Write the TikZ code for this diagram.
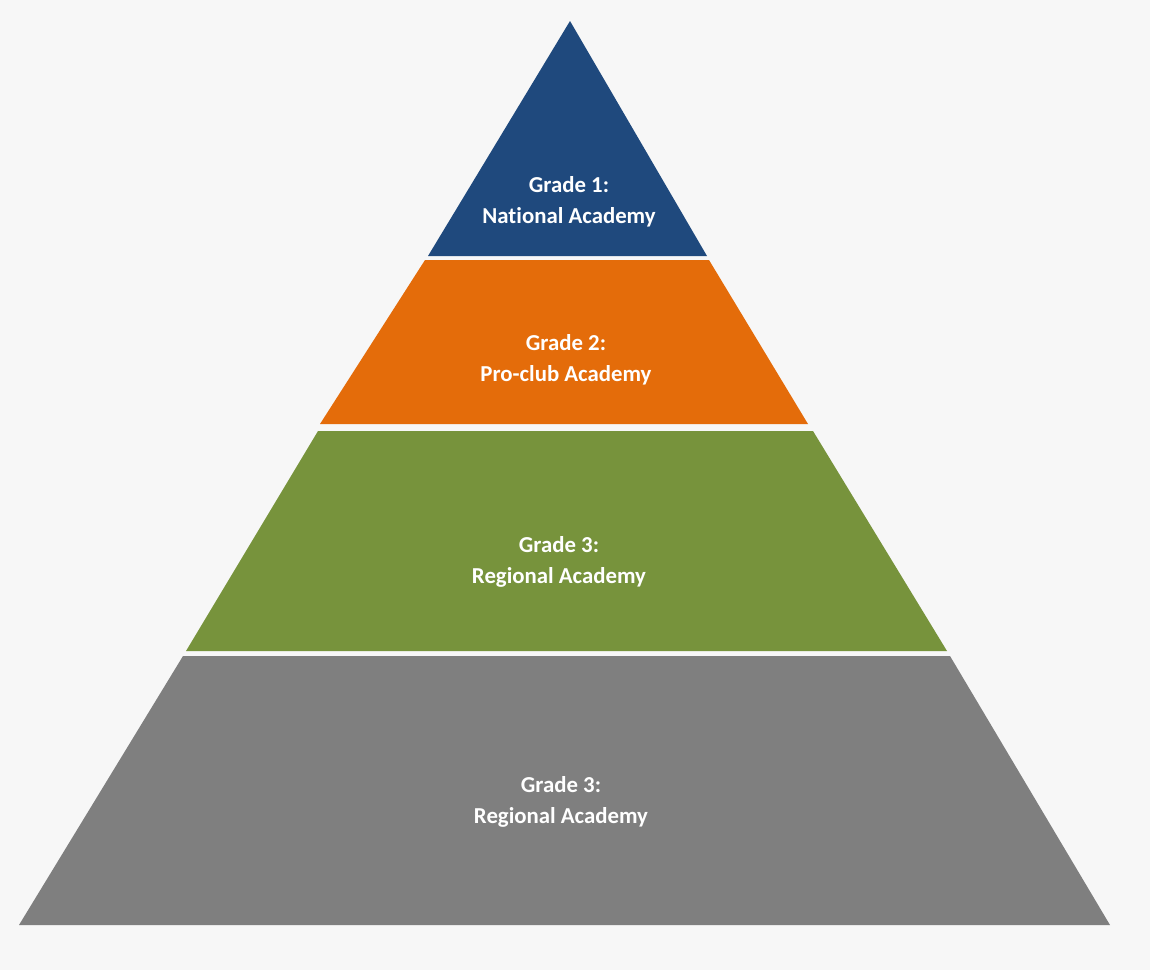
\documentclass[tikz,border=0pt]{standalone}
\usepackage{fontspec}
\setmainfont[Ligatures={NoCommon}]{Carlito}
\definecolor{bg}{HTML}{F7F7F7}
\definecolor{lvlblue}{HTML}{1F497D}
\definecolor{lvlorange}{HTML}{E46C0A}
\definecolor{lvlgreen}{HTML}{77933C}
\definecolor{lvlgray}{HTML}{7F7F7F}
\begin{document}
\begin{tikzpicture}[x=1pt,y=-1pt,
  layer/.style={draw=none},
  lbl/.style={text=white,font=\fontsize{22.8}{30.5}\selectfont\bfseries,align=center,inner sep=0pt}]
\fill[bg] (0,0) rectangle (1150,970);
\useasboundingbox (0,0) rectangle (1150,970);
% level 1
\fill[lvlblue] (570,21) -- (707,256) -- (428,256) -- cycle;
% level 2
\fill[lvlorange] (425,260) -- (709,260) -- (808,424) -- (320,424) -- cycle;
% level 3
\fill[lvlgreen] (318,431) -- (813,431) -- (947,651) -- (186,651) -- cycle;
% level 4
\fill[lvlgray] (183,656) -- (950,656) -- (1110,925) -- (19,925) -- cycle;
\node[lbl] (l1) at (569,202) {Grade 1:\\National Academy};
\node[lbl] (l2) at (566,360) {Grade 2:\\Pro-club Academy};
\node[lbl] (l3) at (559,562) {Grade 3:\\Regional Academy};
\node[lbl] (l4) at (561,802) {Grade 3:\\Regional Academy};
\end{tikzpicture}
\end{document}
